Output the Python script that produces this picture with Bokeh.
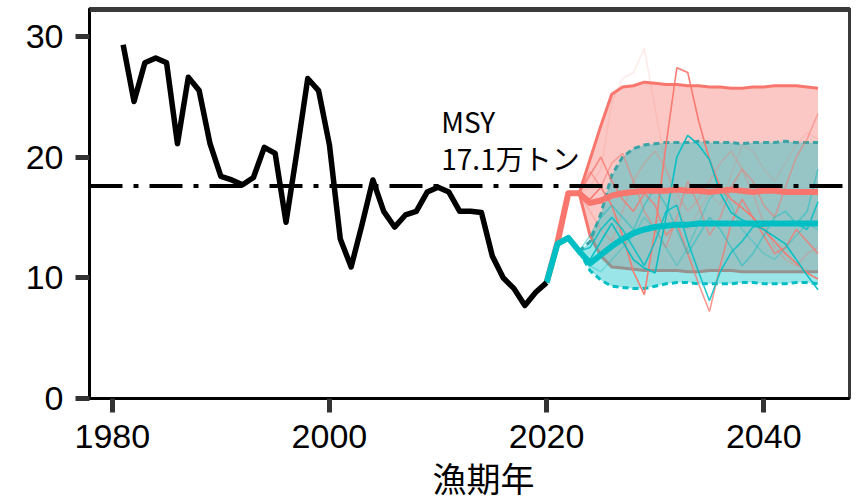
from bokeh.plotting import figure
from bokeh.models import Range1d, FixedTicker, Span, Label, Title
from bokeh.embed import file_html
from bokeh.resources import INLINE

# ---------------- data ----------------
hist_years = list(range(1981, 2021))
hist_values = [29.3, 24.6, 27.8, 28.2, 27.8, 21.1, 26.6, 25.5, 21.1, 18.4,
               18.1, 17.7, 18.3, 20.8, 20.3, 14.6, 20.4, 26.5, 25.5, 21.0,
               13.2, 10.9, 14.4, 18.1, 15.5, 14.2, 15.2, 15.5, 17.1, 17.5,
               17.1, 15.5, 15.5, 15.4, 11.8, 10.0, 9.1, 7.7, 8.8, 9.6]

proj_years = list(range(2020, 2046))
red_median = [9.6, 12.9, 17.0, 17.0, 16.2, 16.4, 16.8, 17.0, 17.1, 17.2,
              17.2, 17.2, 17.3, 17.2, 17.2, 17.1, 17.2, 17.3, 17.2, 17.1,
              17.2, 17.2, 17.1, 17.1, 17.1, 17.1]
cyan_median = [9.6, 12.8, 13.3, 12.2, 11.2, 11.9, 12.6, 13.2, 13.7, 14.0,
               14.2, 14.3, 14.4, 14.4, 14.5, 14.5, 14.5, 14.5, 14.5, 14.5,
               14.5, 14.5, 14.5, 14.5, 14.5, 14.5]

band_years = list(range(2023, 2046))
red_upper = [17.0, 19.8, 22.6, 25.2, 25.8, 25.9, 26.2, 26.1, 26.0, 26.0, 25.9, 25.9,
             25.8, 25.8, 25.7, 25.7, 25.8, 25.8, 25.9, 25.9, 25.9, 25.8, 25.7]
red_lower = [17.0, 13.5, 11.8, 10.9, 10.8, 10.7, 10.6, 10.6, 10.6, 10.6, 10.5, 10.5,
             10.6, 10.6, 10.6, 10.5, 10.5, 10.5, 10.5, 10.5, 10.5, 10.5, 10.5]
cyan_upper = [12.2, 13.0, 15.3, 18.5, 20.0, 20.7, 21.0, 21.1, 21.2, 21.2, 21.2, 21.3,
              21.2, 21.2, 21.2, 21.1, 21.2, 21.2, 21.2, 21.3, 21.2, 21.2, 21.2]
cyan_lower = [12.2, 10.6, 9.8, 9.3, 9.2, 9.1, 9.1, 9.3, 9.5, 9.6, 9.6, 9.5,
              9.5, 9.5, 9.5, 9.6, 9.6, 9.5, 9.5, 9.5, 9.6, 9.6, 9.5]

sim_years = list(range(2023, 2046))
red_sim_1 = [17.0, 16.5, 17.5, 16.0, 13.5, 10.5, 8.6, 14.0, 21.0, 27.4, 27.0, 23.0,
             19.8, 17.5, 16.5, 15.8, 15.0, 14.0, 13.0, 12.0, 11.2, 10.4, 9.9]
red_sim_2 = [17.0, 18.5, 20.0, 18.0, 16.5, 15.5, 17.0, 16.0, 13.5, 14.5, 12.0, 9.5,
             7.2, 11.0, 14.5, 16.5, 15.0, 13.5, 12.0, 12.5, 14.0, 13.0, 12.0]
red_sim_3 = [17.0, 18.8, 17.5, 19.5, 20.3, 18.0, 15.5, 14.0, 12.5, 15.0, 18.0, 16.0,
             13.5, 15.0, 17.5, 19.0, 18.0, 16.0, 15.0, 17.5, 20.0, 21.5, 23.6]
red_sim_4 = [17.0, 17.5, 19.0, 24.5, 26.5, 27.0, 29.0, 24.0, 19.0, 16.0, 14.0, 15.5,
             17.0, 16.0, 18.5, 21.0, 20.5, 19.0, 18.0, 19.5, 21.0, 22.0, 21.5]
red_sim_5 = [17.0, 15.5, 14.0, 13.0, 15.5, 18.0, 19.5, 20.5, 19.0, 17.0, 15.5, 16.5,
             18.0, 19.5, 20.5, 19.0, 17.0, 14.5, 12.5, 11.5, 11.0, 12.0, 12.5]
cyan_sim_1 = [12.2, 11.5, 13.0, 14.5, 13.0, 11.5, 10.8, 10.4, 15.0, 20.0, 21.8, 21.0,
              19.8, 17.0, 15.4, 14.8, 14.4, 14.0, 13.4, 12.8, 11.5, 10.2, 9.0]
cyan_sim_2 = [12.2, 12.5, 14.0, 15.0, 14.0, 12.5, 11.0, 13.0, 15.5, 16.0, 13.0, 10.5,
              8.1, 10.5, 12.1, 13.0, 14.2, 14.3, 14.4, 14.6, 14.5, 14.0, 16.3]
cyan_sim_3 = [12.2, 13.5, 15.0, 16.0, 15.0, 14.0, 16.0, 17.5, 16.0, 14.0, 12.0, 13.5,
              15.0, 14.0, 12.5, 11.0, 12.0, 13.5, 15.0, 15.5, 14.5, 15.5, 19.0]
cyan_sim_4 = [12.2, 11.0, 10.5, 11.5, 12.5, 13.5, 15.0, 14.0, 12.5, 11.0, 12.5, 14.5,
              16.5, 17.5, 16.0, 14.0, 13.0, 12.0, 11.5, 12.5, 13.5, 14.5, 14.0]

msy_level = 17.6
msy_text = ["MSY", "17.1万トン"]
x_ticks = [1980, 2000, 2020, 2040]
y_ticks = [0, 10, 20, 30]
x_label = "漁期年"

# ---------------- styles ----------------
RED = "#F8766D"
CYAN = "#00BFC4"
TICK_FONT = "Liberation Sans"
JP_FONT = "Noto Sans CJK JP"

p = figure(width=857, height=501, output_backend="svg", toolbar_location=None,
           x_range=Range1d(1977.9, 2047.9), y_range=Range1d(0, 32.3),
           min_border_left=89, min_border_right=8, min_border_top=8,
           min_border_bottom=101)
p.background_fill_color = "white"
p.border_fill_color = "white"
p.grid.visible = False
p.outline_line_color = "#3a3a3a"
p.outline_line_width = 3

# bands
p.varea(x=band_years, y1=red_lower, y2=red_upper, fill_color=RED, fill_alpha=0.4)
p.line(band_years, red_upper, line_color=RED, line_width=3)
p.line(band_years, red_lower, line_color=RED, line_width=3)
p.varea(x=band_years, y1=cyan_lower, y2=cyan_upper, fill_color=CYAN, fill_alpha=0.4)
p.line(band_years, cyan_upper, line_color="#3AA3A5", line_width=3, line_dash="6 4")
p.line(band_years, cyan_lower, line_color=CYAN, line_width=3, line_dash="6 4")

# simulated trajectories
for ys, a in [(red_sim_4, 0.15), (red_sim_5, 0.3), (red_sim_3, 0.5),
              (red_sim_2, 0.75), (red_sim_1, 0.95)]:
    p.line(sim_years, ys, line_color=RED, line_width=1.6, line_alpha=a)
for ys, a in [(cyan_sim_4, 0.3), (cyan_sim_3, 0.45), (cyan_sim_2, 0.85),
              (cyan_sim_1, 0.95)]:
    p.line(sim_years, ys, line_color=CYAN, line_width=1.6, line_alpha=a)

# medians
p.line(proj_years, red_median, line_color=RED, line_width=6, line_join="round")
p.line(proj_years, cyan_median, line_color=CYAN, line_width=6, line_join="round")

# MSY reference
p.add_layout(Span(location=msy_level, dimension="width", line_color="black",
                  line_width=4, line_dash="33 11 5 11"))
p.add_layout(Label(x=2010.3, y=23.0, text=msy_text[0], text_font=JP_FONT,
                   text_font_size="28px", text_baseline="middle", text_color="black"))
p.add_layout(Label(x=2010.3, y=19.95, text=msy_text[1], text_font=JP_FONT,
                   text_font_size="28px", text_baseline="middle", text_color="black"))

# historical
p.line(hist_years, hist_values, line_color="black", line_width=5.5, line_join="round")

# top border
p.add_layout(Span(location=32.3, dimension="width", line_color="#3a3a3a", line_width=7))

# axes
for ax in (p.xaxis[0], p.yaxis[0]):
    ax.axis_line_color = "black"
    ax.axis_line_width = 3
    ax.major_tick_line_color = "#333333"
    ax.major_tick_line_width = 5
    ax.major_tick_out = 14
    ax.major_tick_in = 0
    ax.minor_tick_line_color = None
    ax.major_label_text_font = TICK_FONT
    ax.major_label_text_font_size = "34px"
    ax.major_label_text_color = "black"
p.xaxis.ticker = FixedTicker(ticks=x_ticks)
p.yaxis.ticker = FixedTicker(ticks=y_ticks)
p.xaxis.major_label_standoff = 12
p.yaxis.major_label_standoff = 12

p.add_layout(Title(text=x_label, align="left", offset=343, text_font=JP_FONT,
                   text_font_size="34px", text_font_style="normal",
                   text_color="black", standoff=0), "below")

open("out.html", "w").write(file_html(p, INLINE))
